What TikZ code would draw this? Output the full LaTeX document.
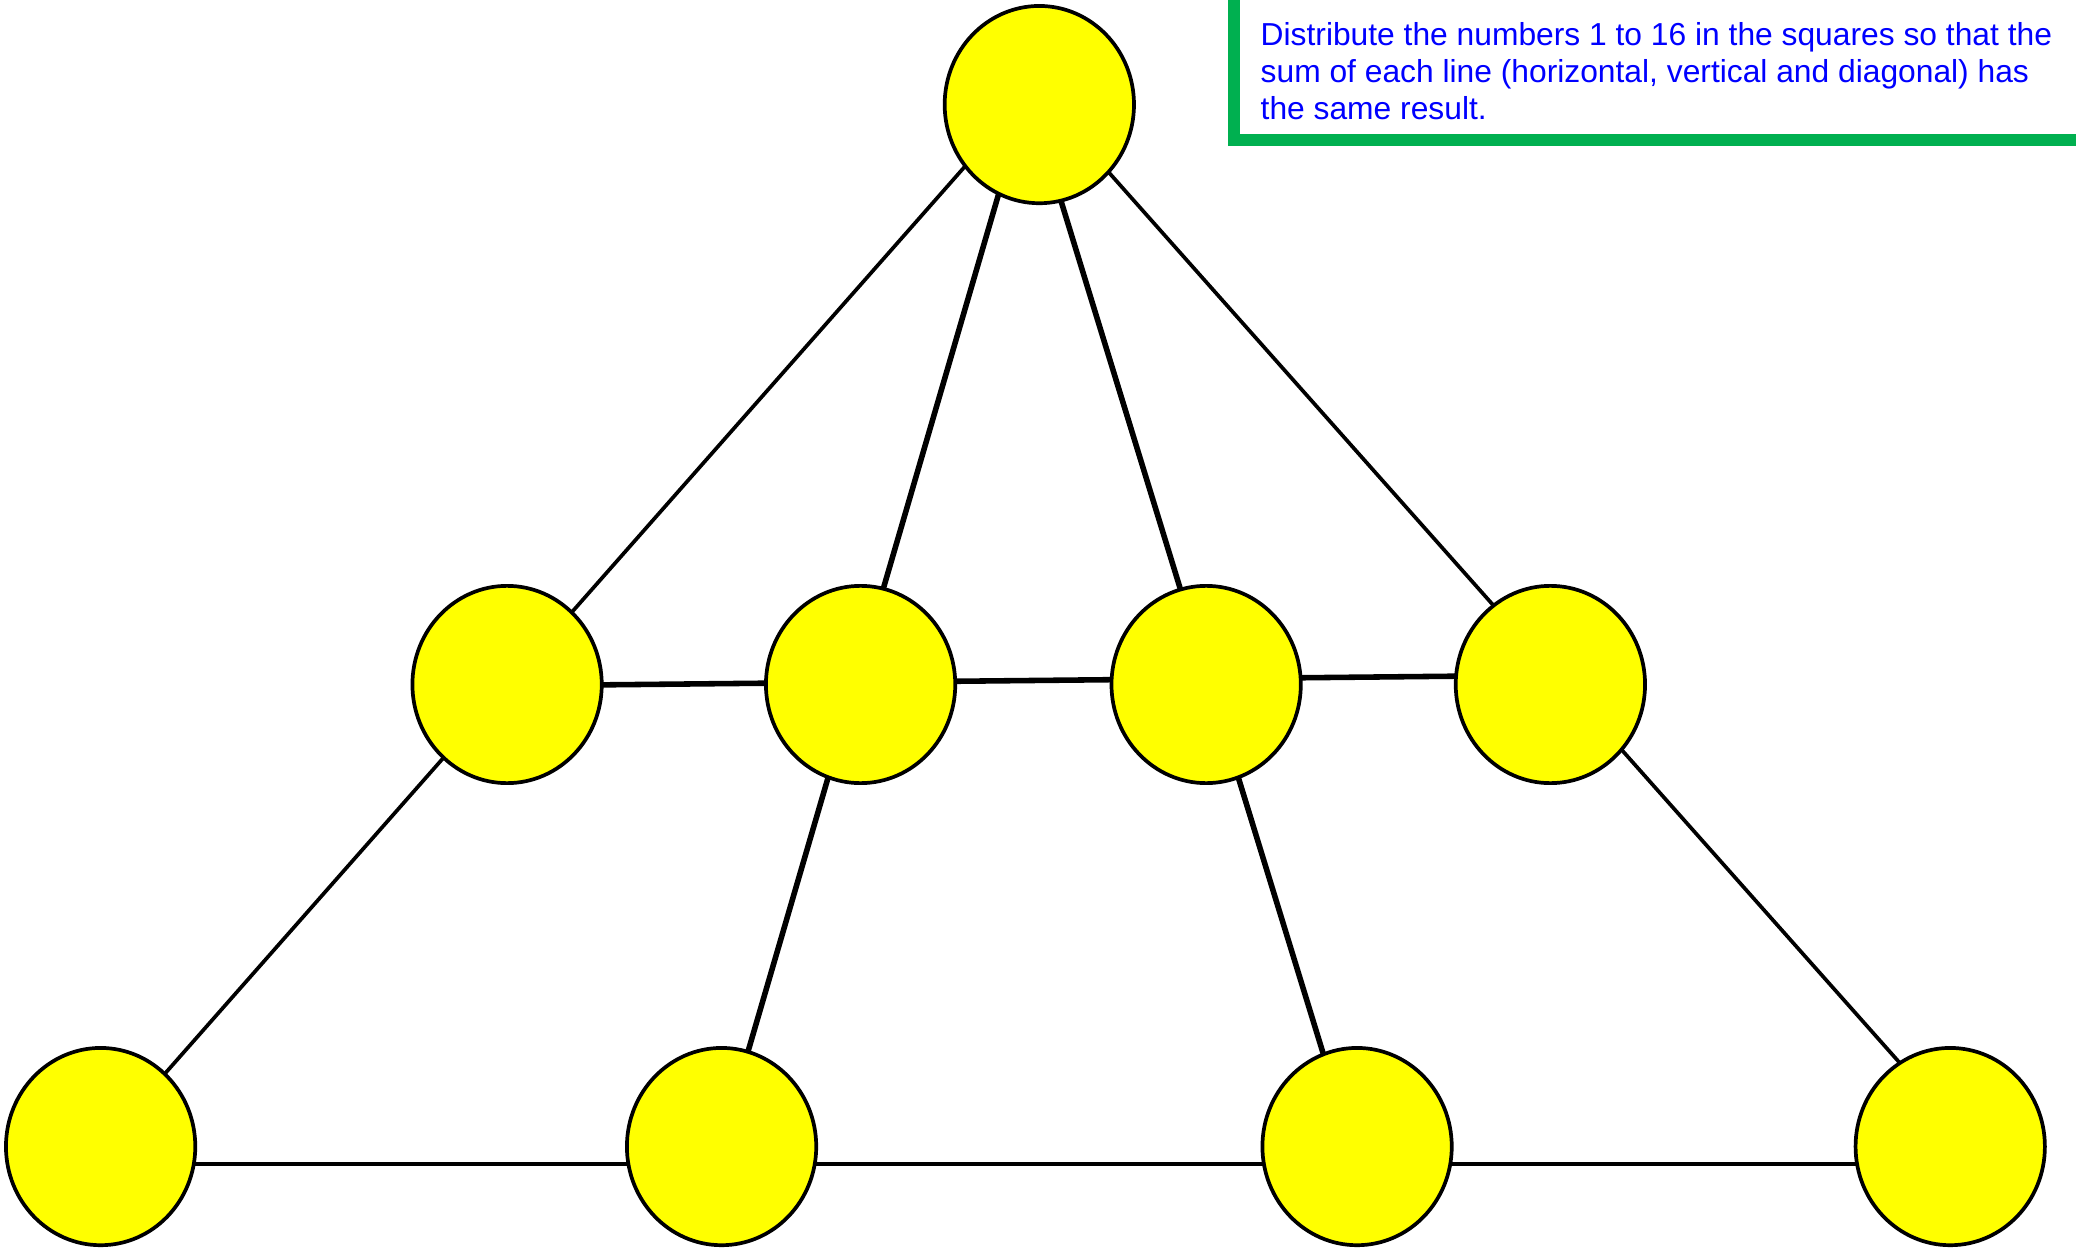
\documentclass[tikz,border=0pt]{standalone}
\usepackage{fontspec}
\setmainfont{Liberation Sans}
\usetikzlibrary{shapes.geometric,backgrounds}
\definecolor{ballyellow}{RGB}{255,255,0}
\definecolor{boxgreen}{RGB}{0,176,80}
\definecolor{textblue}{RGB}{0,0,255}
\begin{document}
\begin{tikzpicture}[x=1pt,y=-1pt,
  ball/.style={ellipse,draw=black,line width=2.8pt,fill=ballyellow,minimum width=143pt,minimum height=149pt,inner sep=0pt},
  thinedge/.style={draw=black,line width=2.8pt},
  thickedge/.style={draw=black,line width=4.2pt},
  note/.style={font=\fontsize{24}{28}\selectfont,text=textblue,align=left,inner sep=0pt,anchor=base west}]
\useasboundingbox (0,0) rectangle (1568,944);
\clip (0,0) rectangle (1568,944);
% circles
\node[ball] (top) at (785,79) {};
\node[ball] (m1) at (383,517) {};
\node[ball] (m2) at (650,517) {};
\node[ball] (m3) at (911,517) {};
\node[ball] (m4) at (1171,517) {};
\node[ball] (b1) at (76,866) {};
\node[ball] (b2) at (545,866) {};
\node[ball] (b3) at (1025,866) {};
\node[ball] (b4) at (1473,866) {};
% connectors behind the circles
\begin{pgfonlayer}{background}
  \draw[thinedge]  ([xshift=-15pt]top.center) -- (b1.center);
  \draw[thickedge] ([xshift=-11pt]top.center) -- ([xshift=-1pt]b2.center);
  \draw[thickedge] ([xshift=-6pt]top.center) -- ([xshift=-4pt]b3.center);
  \draw[thinedge]  ([xshift=7pt]top.center) -- ([xshift=18pt]b4.center);
  \draw[thickedge] ([yshift=-1pt]m1.center) -- ([yshift=7pt]m4.center);
  \draw[thinedge]  ([yshift=-13pt]b1.center) -- ([yshift=-13pt]b4.center);
\end{pgfonlayer}
% instruction box
\draw[boxgreen,line width=9pt] (932,-20) -- (932,106) -- (1600,106);
\node[note] (txt) at (952,90) {Distribute the numbers 1 to 16 in the squares so that the\\sum of each line (horizontal, vertical and diagonal) has\\the same result.};
\end{tikzpicture}
\end{document}
